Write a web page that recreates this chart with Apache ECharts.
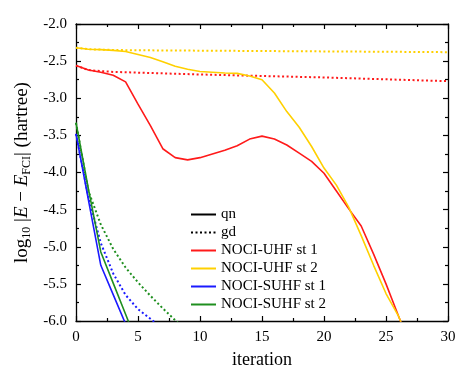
<!DOCTYPE html>
<html>
<head>
<meta charset="utf-8">
<script src="https://cdn.jsdelivr.net/npm/echarts@6/dist/echarts.min.js"></script>
<style>html,body{margin:0;padding:0;background:#fff}#c{width:464px;height:375px}</style>
</head>
<body>
<div id="c"></div>
<script>
// x values: iteration index (array position)
const xTicks = [0, 5, 10, 15, 20, 25, 30];
const yTicks = [-2.0, -2.5, -3.0, -3.5, -4.0, -4.5, -5.0, -5.5, -6.0];
const legendNames = ["qn", "gd", "NOCI-UHF st 1", "NOCI-UHF st 2", "NOCI-SUHF st 1", "NOCI-SUHF st 2"];

// qn (solid) values, index = iteration
const uhf1_qn = [-2.56, -2.62, -2.65, -2.69, -2.78, -3.08, -3.37, -3.68, -3.80, -3.83, -3.80, -3.75, -3.70, -3.64, -3.55, -3.51, -3.55, -3.63, -3.74, -3.85, -4.01, -4.25, -4.49, -4.72, -5.10, -5.50, -5.93, -6.35];
const uhf2_qn = [-2.32, -2.34, -2.345, -2.355, -2.37, -2.41, -2.45, -2.51, -2.57, -2.61, -2.64, -2.65, -2.66, -2.665, -2.70, -2.75, -2.93, -3.18, -3.39, -3.65, -3.94, -4.17, -4.47, -4.85, -5.25, -5.63, -5.93, -6.35];
const suhf1_qn = [-3.48, -4.37, -5.25, -5.645, -6.04];
const suhf2_qn = [-3.33, -4.22, -5.07, -5.49, -5.91, -6.33];

// gd (dotted) values, index = iteration
const uhf1_gd = [-2.56, -2.62, -2.635, -2.645, -2.65, -2.655, -2.66, -2.665, -2.67, -2.675, -2.68, -2.684, -2.688, -2.692, -2.696, -2.70, -2.704, -2.708, -2.712, -2.716, -2.72, -2.725, -2.73, -2.735, -2.74, -2.745, -2.75, -2.755, -2.76, -2.765, -2.77];
const uhf2_gd = [-2.32, -2.34, -2.345, -2.35, -2.352, -2.354, -2.355, -2.356, -2.357, -2.358, -2.359, -2.36, -2.361, -2.362, -2.363, -2.364, -2.365, -2.366, -2.367, -2.368, -2.369, -2.37, -2.371, -2.372, -2.373, -2.374, -2.375, -2.376, -2.377, -2.378, -2.38];
const suhf1_gd = [-3.48, -4.33, -4.95, -5.36, -5.65, -5.84, -5.97, -6.10];
const suhf2_gd = [-3.33, -4.25, -4.70, -5.03, -5.28, -5.48, -5.66, -5.83, -5.99, -6.15];

const colors = {uhf1: '#ff1a1a', uhf2: '#ffd000', suhf1: '#1a1aff', suhf2: '#1f8f1f'};
const FONT = 'Liberation Serif';

function pts(arr) { return arr.map((v, i) => [i, v]); }
function ser(name, arr, color, dotted) {
  return {
    name: name, type: 'line', data: pts(arr), symbol: 'none', showSymbol: false,
    clip: true, silent: true, animation: false, z: dotted ? 2 : 3,
    lineStyle: {color: color, width: dotted ? 2 : 1.6, type: dotted ? [2, 2.5] : 'solid'},
    itemStyle: {color: color}
  };
}

const series = [
  {name: 'qn', type: 'line', data: [], symbol: 'none', lineStyle: {color: '#000', width: 1.8, type: 'solid'}, itemStyle: {color: '#000'}},
  {name: 'gd', type: 'line', data: [], symbol: 'none', lineStyle: {color: '#000', width: 2, type: [2, 2.5]}, itemStyle: {color: '#000'}},
  ser('NOCI-UHF st 1', uhf1_qn, colors.uhf1, false),
  ser('NOCI-UHF st 2', uhf2_qn, colors.uhf2, false),
  ser('NOCI-SUHF st 1', suhf1_qn, colors.suhf1, false),
  ser('NOCI-SUHF st 2', suhf2_qn, colors.suhf2, false),
  ser('NOCI-UHF st 1', uhf1_gd, colors.uhf1, true),
  ser('NOCI-UHF st 2', uhf2_gd, colors.uhf2, true),
  ser('NOCI-SUHF st 1', suhf1_gd, colors.suhf1, true),
  ser('NOCI-SUHF st 2', suhf2_gd, colors.suhf2, true)
];

const axisLine = {show: true, onZero: false, lineStyle: {color: '#000', width: 1.3}};
const xCommon = {type: 'value', min: xTicks[0], max: xTicks[xTicks.length - 1], interval: 5,
  axisLine: axisLine, splitLine: {show: false},
  axisTick: {show: true, inside: true, length: 5, lineStyle: {color: '#000', width: 1.2}},
  minorTick: {show: true, splitNumber: 2, length: 3, lineStyle: {color: '#000', width: 1.2}}};
const yCommon = {type: 'value', min: yTicks[yTicks.length - 1], max: yTicks[0], interval: 0.5,
  axisLine: axisLine, splitLine: {show: false},
  axisTick: {show: true, inside: true, length: 5, lineStyle: {color: '#000', width: 1.2}},
  minorTick: {show: true, splitNumber: 2, length: 3, lineStyle: {color: '#000', width: 1.2}}};

const chart = echarts.init(document.getElementById('c'), null, {renderer: 'canvas'});
chart.setOption({
  backgroundColor: '#fff',
  animation: false,
  textStyle: {fontFamily: FONT},
  grid: {left: 76, right: 16, top: 24, bottom: 54, containLabel: false},
  legend: {
    data: legendNames, orient: 'vertical', left: 190, top: 207, padding: 0,
    itemWidth: 25, itemHeight: 10, itemGap: 3,
    itemStyle: {opacity: 0},
    textStyle: {fontFamily: FONT, fontSize: 15, color: '#000'},
    selectedMode: false
  },
  xAxis: [
    Object.assign({}, xCommon, {position: 'bottom',
      name: 'iteration', nameLocation: 'middle', nameGap: 30,
      nameTextStyle: {fontFamily: FONT, fontSize: 18, color: '#000'},
      axisLabel: {show: true, margin: 9, fontFamily: FONT, fontSize: 15, color: '#000',
        formatter: v => xTicks.includes(v) ? String(v) : ''}}),
    Object.assign({}, xCommon, {position: 'top', axisLabel: {show: false}})
  ],
  yAxis: [
    Object.assign({}, yCommon, {position: 'left',
      name: '{t|log}{sub|10}{t| |}{it|E}{t| − }{it|E}{sub|FCI}{t|| (hartree)}',
      nameLocation: 'middle', nameGap: 43, nameRotate: 90,
      nameTextStyle: {fontFamily: FONT, fontSize: 18, color: '#000',
        rich: {
          t: {fontFamily: FONT, fontSize: 19, color: '#000'},
          it: {fontFamily: FONT, fontSize: 19, fontStyle: 'italic', color: '#000'},
          sub: {fontFamily: FONT, fontSize: 12, color: '#000', padding: [9, 0, 0, 0]}
        }},
      axisLabel: {show: true, margin: 9, fontFamily: FONT, fontSize: 15, color: '#000',
        formatter: v => v.toFixed(1)}}),
    Object.assign({}, yCommon, {position: 'right', axisLabel: {show: false}})
  ],
  series: series
});
</script>
</body>
</html>
